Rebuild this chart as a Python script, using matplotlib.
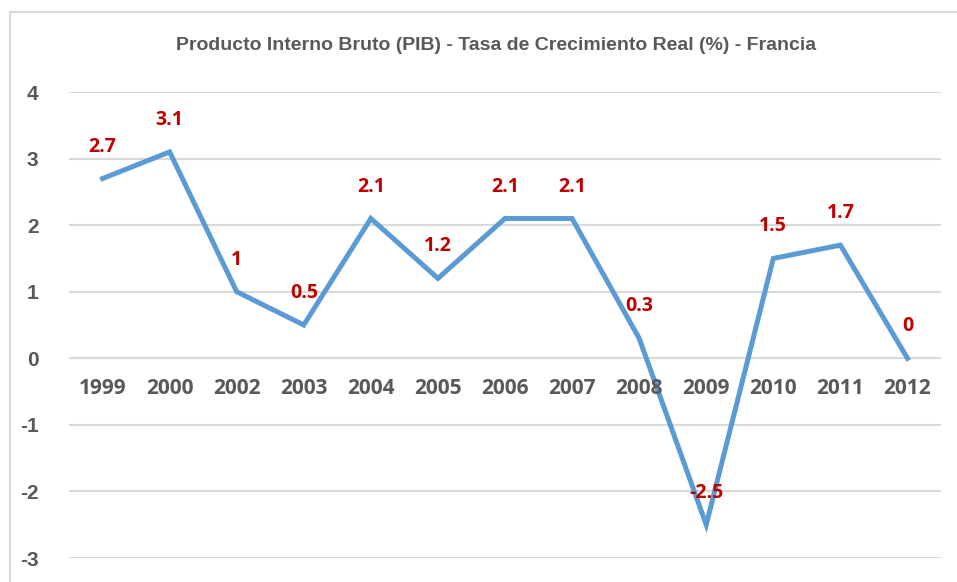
import matplotlib.pyplot as plt
from matplotlib import font_manager
from matplotlib.patches import Rectangle

years = ["1999", "2000", "2002", "2003", "2004", "2005", "2006",
         "2007", "2008", "2009", "2010", "2011", "2012"]
growth = [2.7, 3.1, 1, 0.5, 2.1, 1.2, 2.1, 2.1, 0.3, -2.5, 1.5, 1.7, 0]
value_labels = ["2.7", "3.1", "1", "0.5", "2.1", "1.2", "2.1",
                "2.1", "0.3", "-2.5", "1.5", "1.7", "0"]
y_ticks = [4, 3, 2, 1, 0, -1, -2, -3]

installed = {f.name for f in font_manager.fontManager.ttflist}
narrow = "Liberation Sans Narrow" if "Liberation Sans Narrow" in installed else "Liberation Sans"

fig = plt.figure(figsize=(9.57, 5.82), dpi=100)
ax = fig.add_axes([69 / 957, 24 / 582, 872 / 957, 466 / 582])

# outer chart border (cut off on the right and bottom)
fig.patches.append(Rectangle((10 / 957, -0.1), 1.2, (570 / 582) + 0.1,
                             transform=fig.transFigure, fill=False,
                             edgecolor="#D9D9D9", linewidth=1.5))

x = list(range(len(years)))
ax.plot(x, growth, color="#5B9BD5", linewidth=3.6, solid_joinstyle="miter", zorder=3)

for i, (v, lab) in enumerate(zip(growth, value_labels)):
    ax.annotate(lab, (i, v), xytext=(0, 23), textcoords="offset points",
                ha="center", va="center", color="#C00000", fontsize=14,
                fontweight="bold", family="Open Sans", zorder=4)

# category labels sit under the zero line
for i, yr in enumerate(years):
    ax.annotate(yr, (i, 0), xytext=(0, -21.5), textcoords="offset points",
                ha="center", va="center", color="#595959", fontsize=15,
                fontweight="bold", family="Open Sans")

ax.set_xlim(-0.5, len(years) - 0.5)
ax.set_ylim(-3, 4)
ax.set_yticks(y_ticks)
ax.set_yticklabels([str(t) for t in y_ticks], fontsize=15, fontweight="bold",
                   color="#595959", family="Liberation Sans")
ax.set_xticks([])
ax.tick_params(axis="y", length=0, pad=22)
ax.grid(axis="y", color="#D9D9D9", linewidth=1.5)
ax.set_axisbelow(True)
for s in ax.spines.values():
    s.set_visible(False)

fig.text(496 / 957, 1 - 46 / 582,
         "Producto Interno Bruto (PIB) - Tasa de Crecimiento Real (%) - Francia",
         ha="center", va="center", fontsize=14, fontweight="bold",
         color="#595959", family=narrow)

fig.savefig("out.png", dpi=100)
